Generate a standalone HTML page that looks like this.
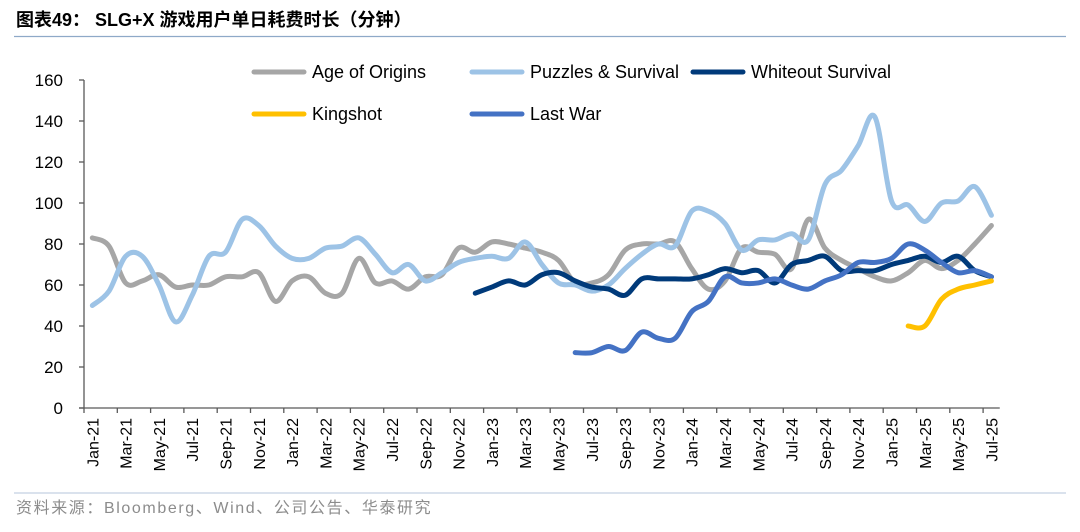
<!DOCTYPE html>
<html><head><meta charset="utf-8"><style>
body{margin:0;background:#fff;width:1080px;height:527px;overflow:hidden;font-family:"Liberation Sans","Noto Sans CJK SC",sans-serif}
</style></head><body>
<svg width="1080" height="527" xmlns="http://www.w3.org/2000/svg">
<text x="16" y="26" font-size="18" font-weight="bold" fill="#000" font-family="Liberation Sans,Noto Sans CJK SC,sans-serif">图表49： SLG+X 游戏用户单日耗费时长（分钟）</text>
<line x1="14" y1="36.5" x2="1066" y2="36.5" stroke="#8EA9C8" stroke-width="1.2"/>
<line x1="14" y1="493" x2="1066" y2="493" stroke="#B4C6DB" stroke-width="1"/>
<text x="16" y="513" font-size="16" letter-spacing="1.6" fill="#8C8C8C" font-family="Liberation Sans,Noto Sans CJK SC,sans-serif">资料来源：Bloomberg、Wind、公司公告、华泰研究</text>
<g id="axes"></g><g id="series"></g><g id="legend"></g>
</svg>
<script>
const months=["Jan","Feb","Mar","Apr","May","Jun","Jul","Aug","Sep","Oct","Nov","Dec"];
const categories=[];for(let y=21;y<=25;y++)for(let m=0;m<12;m++){if(y==25&&m>6)break;categories.push(months[m]+"-"+y);}
const yTicks=[0,20,40,60,80,100,120,140,160];
const ageOfOrigins=[83,79,61,62,65,59,60,60,64,64,66,52,62,64,56,56,73,61,62,58,64,65,78,76,81,80,78,76,72,61,61,65,77,80,80,81,68,58,62,78,76,75,68,92,78,72,68,64,62,66,72,68,72,80,89];
const puzzles=[50,57,74,74,60,42,55,74,76,92,89,79,73,73,78,79,83,75,66,70,62,66,71,73,74,73,81,70,61,60,57,60,68,75,80,79,96,96,90,77,82,82,85,82,109,116,128,142,101,99,91,100,101,108,94];
const whiteoutStart=23;
const whiteout=[56,59,62,60,65,66,62,59,58,55,63,63,63,63,65,68,66,67,61,70,72,74,67,67,67,70,72,74,71,74,67,64];
const kingshotStart=49;
const kingshot=[40,40,53,58,60,62];
const lastWarStart=29;
const lastWar=[27,27,30,28,37,34,34,47,52,64,61,61,63,60,58,62,65,71,71,73,80,77,71,66,67,64];

const NS="http://www.w3.org/2000/svg";
const X0=84,STEP=16.65,Y0=408,YS=2.05;
const xs=i=>X0+(i+0.5)*STEP, ys=v=>Y0-v*YS;
function mk(t,a,p){const e=document.createElementNS(NS,t);for(const k in a)e.setAttribute(k,a[k]);p.appendChild(e);return e;}
const ax=document.getElementById('axes');
const yAxis=mk('line',{x1:X0,y1:ys(160),x2:X0,y2:Y0,stroke:'#595959','stroke-width':1.3},ax);


const xAxis=mk('line',{x1:X0-5,y1:Y0,x2:X0+categories.length*STEP,y2:Y0,stroke:'#595959','stroke-width':1.3},ax);


yTicks.forEach(v=>{
  mk('line',{x1:X0-5,y1:ys(v),x2:X0,y2:ys(v),stroke:'#595959','stroke-width':1.3},ax);
  const t=mk('text',{x:63,y:ys(v)+6,'text-anchor':'end','font-size':17,fill:'#000'},ax);t.textContent=v;
  
  
});
categories.forEach((c,i)=>{
  if(i%2)return;
  mk('line',{x1:X0+i*STEP,y1:Y0,x2:X0+i*STEP,y2:Y0+5,stroke:'#595959','stroke-width':1.3},ax);
  const x=xs(i);
  const t=mk('text',{x:0,y:0,transform:`translate(${x+6},418) rotate(-90)`,'text-anchor':'end','font-size':16,fill:'#000'},ax);t.textContent=c;
  
  
});
function path(vals,start){
  const p=vals.map((v,i)=>[xs(start+i),ys(v)]);
  let d=`M${p[0][0]},${p[0][1]}`;
  for(let i=0;i<p.length-1;i++){
    const a=p[i-1]||p[i],b=p[i],c=p[i+1],e=p[i+2]||c;
    d+=` C${b[0]+(c[0]-a[0])/6},${b[1]+(c[1]-a[1])/6} ${c[0]-(e[0]-b[0])/6},${c[1]-(e[1]-b[1])/6} ${c[0]},${c[1]}`;
  }
  return d;
}
const sg=document.getElementById('series');
const S=[
 ['age-of-origins-line',ageOfOrigins,0,'#A6A6A6'],
 ['puzzles-survival-line',puzzles,0,'#9DC3E6'],
 ['whiteout-survival-line',whiteout,whiteoutStart,'#003A7A'],
 ['last-war-line',lastWar,lastWarStart,'#4472C4'],
 ['kingshot-line',kingshot,kingshotStart,'#FFC000']];
S.forEach(s=>{
  const e=mk('path',{d:path(s[1],s[2]),fill:'none',stroke:s[3],'stroke-width':5,'stroke-linecap':'round','stroke-linejoin':'round'},sg);
  
  
});
const lg=document.getElementById('legend');
const L=[['Age of Origins','#A6A6A6',254,72],['Puzzles & Survival','#9DC3E6',472,72],['Whiteout Survival','#003A7A',693,72],['Kingshot','#FFC000',254,114],['Last War','#4472C4',472,114]];
L.forEach(l=>{
  const g=mk('g',{},lg);
  
  
  mk('line',{x1:l[2],y1:l[3],x2:l[2]+50,y2:l[3],stroke:l[1],'stroke-width':5,'stroke-linecap':'round'},g);
  const t=mk('text',{x:l[2]+58,y:l[3]+6,'font-size':18,fill:'#000'},g);t.textContent=l[0];
});
</script>
</body></html>
